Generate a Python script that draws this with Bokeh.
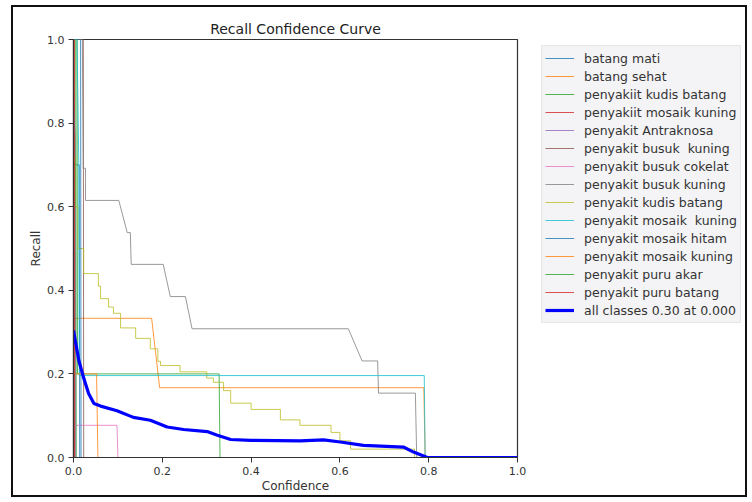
from bokeh.plotting import figure
from bokeh.layouts import row
from bokeh.models import (Range1d, Legend, LegendItem, FixedTicker, PrintfTickFormatter,
                          InlineStyleSheet)
from bokeh.embed import file_html
from bokeh.resources import INLINE

# ---------------- data ----------------
class_names = [
    "batang mati", "batang sehat", "penyakiit kudis batang", "penyakiit mosaik kuning",
    "penyakit Antraknosa", "penyakit busuk  kuning", "penyakit busuk cokelat",
    "penyakit busuk kuning", "penyakit kudis batang", "penyakit mosaik  kuning",
    "penyakit mosaik hitam", "penyakit mosaik kuning", "penyakit puru akar",
    "penyakit puru batang",
]
class_colors = [
    "#1f77b4", "#ff7f0e", "#2ca02c", "#d62728", "#9467bd", "#8c564b", "#e377c2",
    "#7f7f7f", "#bcbd22", "#17becf", "#1f77b4", "#ff7f0e", "#2ca02c", "#d62728",
]

batang_mati_x = [0.0, 0.013, 0.014, 1.0]
batang_mati_y = [0.70, 0.70, 0.0, 0.0]
batang_sehat_x = [0.0, 0.176, 0.194, 0.789, 0.792, 1.0]
batang_sehat_y = [0.333, 0.333, 0.167, 0.167, 0.0, 0.0]
kudis_batang1_x = [0.0, 0.008, 0.009, 0.328, 0.330, 1.0]
kudis_batang1_y = [1.0, 1.0, 0.20, 0.20, 0.0, 0.0]
mosaik_kuning1_x = [0.0, 0.002, 0.003, 1.0]
mosaik_kuning1_y = [1.0, 1.0, 0.0, 0.0]
antraknosa_x = [0.0, 0.002, 0.004, 0.005, 1.0]
antraknosa_y = [0.85, 0.80, 0.77, 0.0, 0.0]
busuk_kuning1_x = [0.0, 0.022, 0.023, 1.0]
busuk_kuning1_y = [1.0, 1.0, 0.0, 0.0]
busuk_cokelat_x = [0.0, 0.098, 0.100, 1.0]
busuk_cokelat_y = [0.077, 0.077, 0.0, 0.0]
busuk_kuning2_x = [0.0, 0.020, 0.022, 0.027, 0.027, 0.102, 0.121, 0.128, 0.130, 0.202,
                   0.218, 0.252, 0.267, 0.619, 0.650, 0.685, 0.687, 0.770, 0.773, 1.0]
busuk_kuning2_y = [1.0, 1.0, 0.692, 0.692, 0.615, 0.615, 0.538, 0.538, 0.462, 0.462,
                   0.385, 0.385, 0.308, 0.308, 0.231, 0.231, 0.154, 0.154, 0.0, 0.0]
# staircase (drawn as steps)
kudis_batang2_x = [0.0, 0.004, 0.010, 0.023, 0.056, 0.061, 0.079, 0.090, 0.106, 0.140,
                   0.173, 0.190, 0.196, 0.240, 0.300, 0.315, 0.338, 0.354, 0.400, 0.466,
                   0.510, 0.580, 0.600, 0.624, 0.768, 1.0]
kudis_batang2_y = [0.72, 0.60, 0.50, 0.44, 0.41, 0.38, 0.36, 0.345, 0.31, 0.285,
                   0.26, 0.23, 0.22, 0.205, 0.19, 0.18, 0.16, 0.13, 0.115, 0.09,
                   0.077, 0.06, 0.04, 0.02, 0.0, 0.0]
mosaik_kuning2_x = [0.0, 0.008, 0.012, 0.013, 0.790, 0.792, 1.0]
mosaik_kuning2_y = [1.0, 1.0, 0.70, 0.196, 0.196, 0.0, 0.0]
mosaik_hitam_x = [0.0, 0.016, 0.017, 1.0]
mosaik_hitam_y = [1.0, 1.0, 0.0, 0.0]
mosaik_kuning3_x = [0.0, 0.052, 0.055, 1.0]
mosaik_kuning3_y = [0.20, 0.20, 0.0, 0.0]
puru_akar_x = [0.0, 0.005, 0.006, 1.0]
puru_akar_y = [1.0, 1.0, 0.0, 0.0]
puru_batang_x = [0.0, 0.001, 0.002, 1.0]
puru_batang_y = [1.0, 1.0, 0.0, 0.0]

all_label = "all classes 0.30 at 0.000"
all_x = [0.0, 0.012, 0.023, 0.034, 0.046, 0.061, 0.098, 0.135, 0.173, 0.211, 0.248,
         0.301, 0.324, 0.354, 0.399, 0.511, 0.563, 0.601, 0.653, 0.743, 0.766, 0.797, 1.0]
all_y = [0.304, 0.232, 0.19, 0.153, 0.129, 0.123, 0.112, 0.096, 0.089, 0.073, 0.067,
         0.062, 0.053, 0.043, 0.041, 0.040, 0.042, 0.037, 0.029, 0.025, 0.013, 0.0, 0.0]

series_x = [batang_mati_x, batang_sehat_x, kudis_batang1_x, mosaik_kuning1_x, antraknosa_x,
            busuk_kuning1_x, busuk_cokelat_x, busuk_kuning2_x, kudis_batang2_x,
            mosaik_kuning2_x, mosaik_hitam_x, mosaik_kuning3_x, puru_akar_x, puru_batang_x]
series_y = [batang_mati_y, batang_sehat_y, kudis_batang1_y, mosaik_kuning1_y, antraknosa_y,
            busuk_kuning1_y, busuk_cokelat_y, busuk_kuning2_y, kudis_batang2_y,
            mosaik_kuning2_y, mosaik_hitam_y, mosaik_kuning3_y, puru_akar_y, puru_batang_y]
step_series = {"penyakit kudis batang"}

ticks = [0.0, 0.2, 0.4, 0.6, 0.8, 1.0]

# ---------------- main figure ----------------
FONT = "DejaVu Sans"
p = figure(frame_width=444, frame_height=418, output_backend="svg", toolbar_location=None,
           x_range=Range1d(0, 1), y_range=Range1d(0, 1),
           title="Recall Confidence Curve",
           min_border_left=73, min_border_right=13, min_border_top=39, min_border_bottom=43)
p.background_fill_color = "white"
p.border_fill_color = "white"
p.grid.visible = False
p.outline_line_color = "#333333"
p.outline_line_width = 1.2

p.title.align = "center"
p.title.text_font = FONT
p.title.text_font_size = "14px"
p.title.text_font_style = "normal"
p.title.text_color = "#222222"
p.title.standoff = 5

for ax, lbl in ((p.xaxis[0], "Confidence"), (p.yaxis[0], "Recall")):
    ax.axis_label = lbl
    ax.ticker = FixedTicker(ticks=ticks)
    ax.formatter = PrintfTickFormatter(format="%.1f")
    ax.minor_tick_line_color = None
    ax.major_tick_out = 5
    ax.major_tick_in = 0
    ax.major_tick_line_color = "#333333"
    ax.axis_line_color = "#333333"
    ax.axis_line_width = 1.2
    ax.major_label_text_font = FONT
    ax.major_label_text_font_size = "11px"
    ax.major_label_text_color = "#333333"
    ax.major_label_standoff = 4
    ax.axis_label_text_font = FONT
    ax.axis_label_text_font_size = "12px"
    ax.axis_label_text_font_style = "normal"
    ax.axis_label_text_color = "#333333"
    ax.axis_label_standoff = 1

for name, col, xs, ys in zip(class_names, class_colors, series_x, series_y):
    if name in step_series:
        p.step(xs, ys, mode="after", line_color=col, line_width=1, line_alpha=0.8)
    else:
        p.line(xs, ys, line_color=col, line_width=1, line_alpha=0.8)
p.line(all_x, all_y, line_color="#0000ff", line_width=3.2)

# ---------------- legend holder (right of the axes) ----------------
# its ranges sit away from the data, so only the legend is visible here
lg = figure(width=220, height=500, output_backend="svg", toolbar_location=None,
            x_range=Range1d(5, 6), y_range=Range1d(5, 6),
            x_axis_location=None, y_axis_location=None,
            min_border_left=5, min_border_top=39, min_border_right=0, min_border_bottom=43)
lg.grid.visible = False
lg.outline_line_color = None
lg.background_fill_color = "white"
lg.border_fill_color = "white"

items = []
for name, col, xs, ys in zip(class_names, class_colors, series_x, series_y):
    r = lg.line(xs, ys, line_color=col, line_width=1, line_alpha=0.8)
    items.append(LegendItem(label=name, renderers=[r]))
ra = lg.line(all_x, all_y, line_color="#0000ff", line_width=3.2)
items.append(LegendItem(label=all_label, renderers=[ra]))

legend = Legend(items=items, location="top_left", margin=6)
legend.label_text_font = FONT
legend.label_text_font_size = "12.5px"
legend.label_text_color = "#333333"
legend.label_height = 18
legend.glyph_height = 18
legend.glyph_width = 29
legend.label_standoff = 10
legend.spacing = 0
legend.padding = 3
legend.background_fill_color = "#f3f3f6"
legend.border_line_color = "#d8d8d8"
legend.border_line_width = 1
lg.add_layout(legend, "center")

border_css = InlineStyleSheet(css="""
:host::after {
  content: ""; position: absolute; left: 11px; top: 5px; width: 736px; height: 492px;
  border: 2px solid #111111; box-sizing: border-box; pointer-events: none; z-index: 100;
}
""")
layout = row(p, lg, spacing=0)
layout.stylesheets = [border_css]

open("out.html", "w").write(file_html(layout, INLINE))
